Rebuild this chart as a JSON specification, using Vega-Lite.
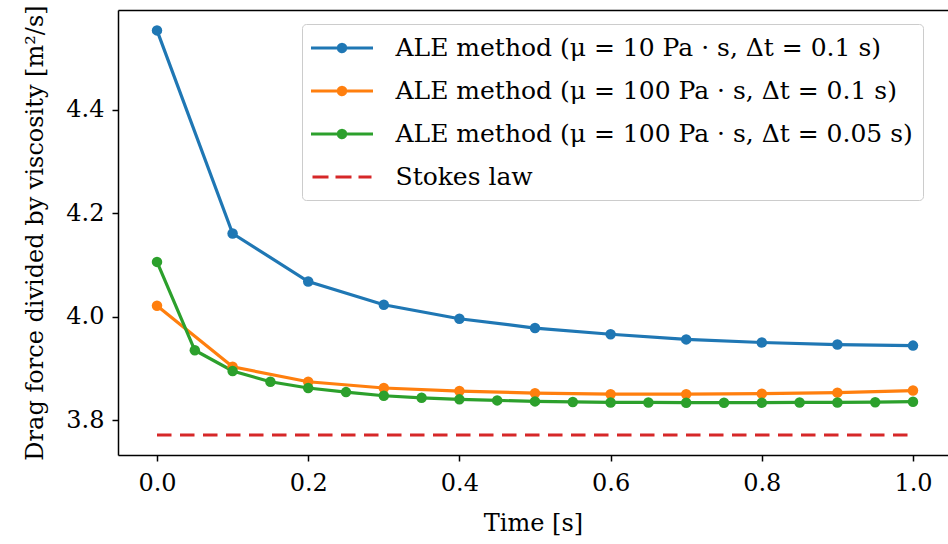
{
  "$schema": "https://vega.github.io/schema/vega-lite/v6.json",
  "width": 830,
  "height": 445,
  "autosize": {"type": "none"},
  "padding": {"left": 118, "top": 10, "right": 0, "bottom": 89},
  "background": "white",
  "config": {
    "view": {"stroke": null},
    "font": "DejaVu Serif",
    "axis": {
      "domainColor": "black",
      "domainWidth": 1.5,
      "tickColor": "black",
      "tickWidth": 1.5,
      "tickSize": 6,
      "labelFont": "DejaVu Serif",
      "labelFontSize": 24,
      "labelColor": "black",
      "titleFont": "DejaVu Serif",
      "titleFontSize": 24,
      "titleFontWeight": "normal",
      "titleColor": "black",
      "grid": false
    }
  },
  "datasets": {
    "ale": [
      {"series": "ALE method (μ = 10 Pa · s, Δt = 0.1 s)", "t": 0.0, "value": 4.554},
      {"series": "ALE method (μ = 10 Pa · s, Δt = 0.1 s)", "t": 0.1, "value": 4.161},
      {"series": "ALE method (μ = 10 Pa · s, Δt = 0.1 s)", "t": 0.2, "value": 4.068},
      {"series": "ALE method (μ = 10 Pa · s, Δt = 0.1 s)", "t": 0.3, "value": 4.023},
      {"series": "ALE method (μ = 10 Pa · s, Δt = 0.1 s)", "t": 0.4, "value": 3.996},
      {"series": "ALE method (μ = 10 Pa · s, Δt = 0.1 s)", "t": 0.5, "value": 3.978},
      {"series": "ALE method (μ = 10 Pa · s, Δt = 0.1 s)", "t": 0.6, "value": 3.966},
      {"series": "ALE method (μ = 10 Pa · s, Δt = 0.1 s)", "t": 0.7, "value": 3.956},
      {"series": "ALE method (μ = 10 Pa · s, Δt = 0.1 s)", "t": 0.8, "value": 3.950},
      {"series": "ALE method (μ = 10 Pa · s, Δt = 0.1 s)", "t": 0.9, "value": 3.946},
      {"series": "ALE method (μ = 10 Pa · s, Δt = 0.1 s)", "t": 1.0, "value": 3.944},
      {"series": "ALE method (μ = 100 Pa · s, Δt = 0.1 s)", "t": 0.0, "value": 4.021},
      {"series": "ALE method (μ = 100 Pa · s, Δt = 0.1 s)", "t": 0.1, "value": 3.903},
      {"series": "ALE method (μ = 100 Pa · s, Δt = 0.1 s)", "t": 0.2, "value": 3.874},
      {"series": "ALE method (μ = 100 Pa · s, Δt = 0.1 s)", "t": 0.3, "value": 3.862},
      {"series": "ALE method (μ = 100 Pa · s, Δt = 0.1 s)", "t": 0.4, "value": 3.856},
      {"series": "ALE method (μ = 100 Pa · s, Δt = 0.1 s)", "t": 0.5, "value": 3.852},
      {"series": "ALE method (μ = 100 Pa · s, Δt = 0.1 s)", "t": 0.6, "value": 3.850},
      {"series": "ALE method (μ = 100 Pa · s, Δt = 0.1 s)", "t": 0.7, "value": 3.850},
      {"series": "ALE method (μ = 100 Pa · s, Δt = 0.1 s)", "t": 0.8, "value": 3.851},
      {"series": "ALE method (μ = 100 Pa · s, Δt = 0.1 s)", "t": 0.9, "value": 3.853},
      {"series": "ALE method (μ = 100 Pa · s, Δt = 0.1 s)", "t": 1.0, "value": 3.857},
      {"series": "ALE method (μ = 100 Pa · s, Δt = 0.05 s)", "t": 0.0, "value": 4.106},
      {"series": "ALE method (μ = 100 Pa · s, Δt = 0.05 s)", "t": 0.05, "value": 3.935},
      {"series": "ALE method (μ = 100 Pa · s, Δt = 0.05 s)", "t": 0.1, "value": 3.895},
      {"series": "ALE method (μ = 100 Pa · s, Δt = 0.05 s)", "t": 0.15, "value": 3.874},
      {"series": "ALE method (μ = 100 Pa · s, Δt = 0.05 s)", "t": 0.2, "value": 3.862},
      {"series": "ALE method (μ = 100 Pa · s, Δt = 0.05 s)", "t": 0.25, "value": 3.854},
      {"series": "ALE method (μ = 100 Pa · s, Δt = 0.05 s)", "t": 0.3, "value": 3.847},
      {"series": "ALE method (μ = 100 Pa · s, Δt = 0.05 s)", "t": 0.35, "value": 3.843},
      {"series": "ALE method (μ = 100 Pa · s, Δt = 0.05 s)", "t": 0.4, "value": 3.840},
      {"series": "ALE method (μ = 100 Pa · s, Δt = 0.05 s)", "t": 0.45, "value": 3.838},
      {"series": "ALE method (μ = 100 Pa · s, Δt = 0.05 s)", "t": 0.5, "value": 3.836},
      {"series": "ALE method (μ = 100 Pa · s, Δt = 0.05 s)", "t": 0.55, "value": 3.835},
      {"series": "ALE method (μ = 100 Pa · s, Δt = 0.05 s)", "t": 0.6, "value": 3.834},
      {"series": "ALE method (μ = 100 Pa · s, Δt = 0.05 s)", "t": 0.65, "value": 3.834},
      {"series": "ALE method (μ = 100 Pa · s, Δt = 0.05 s)", "t": 0.7, "value": 3.8335},
      {"series": "ALE method (μ = 100 Pa · s, Δt = 0.05 s)", "t": 0.75, "value": 3.8335},
      {"series": "ALE method (μ = 100 Pa · s, Δt = 0.05 s)", "t": 0.8, "value": 3.8335},
      {"series": "ALE method (μ = 100 Pa · s, Δt = 0.05 s)", "t": 0.85, "value": 3.834},
      {"series": "ALE method (μ = 100 Pa · s, Δt = 0.05 s)", "t": 0.9, "value": 3.834},
      {"series": "ALE method (μ = 100 Pa · s, Δt = 0.05 s)", "t": 0.95, "value": 3.8345},
      {"series": "ALE method (μ = 100 Pa · s, Δt = 0.05 s)", "t": 1.0, "value": 3.8355}
    ],
    "stokes": [
      {"series": "Stokes law", "t": 0.0, "value": 3.771},
      {"series": "Stokes law", "t": 1.0, "value": 3.771}
    ]
  },
  "layer": [
    {
      "data": {"name": "ale"},
      "mark": {"type": "line", "strokeWidth": 3.2, "point": {"filled": true, "size": 110, "opacity": 1}},
      "encoding": {
        "x": {
          "field": "t", "type": "quantitative",
          "scale": {"domain": [-0.0516, 1.0463], "nice": false, "zero": false},
          "axis": {"orient": "bottom", "values": [0, 0.2, 0.4, 0.6, 0.8, 1.0], "format": ".1f", "title": "Time [s]", "labelPadding": 10, "titlePadding": 16}
        },
        "y": {
          "field": "value", "type": "quantitative",
          "scale": {"domain": [3.7323, 4.5935], "nice": false, "zero": false},
          "axis": {"values": [3.8, 4.0, 4.2, 4.4], "format": ".1f", "title": "Drag force divided by viscosity [m²/s]", "labelPadding": 8, "titlePadding": 18}
        },
        "color": {
          "field": "series", "type": "nominal",
          "scale": {
            "domain": ["ALE method (μ = 10 Pa · s, Δt = 0.1 s)", "ALE method (μ = 100 Pa · s, Δt = 0.1 s)", "ALE method (μ = 100 Pa · s, Δt = 0.05 s)", "Stokes law"],
            "range": ["#1f77b4", "#ff7f0e", "#2ca02c", "#d62728"]
          },
          "legend": {
            "orient": "none", "legendX": 184, "legendY": 14,
            "title": null,
            "labelFont": "DejaVu Serif", "labelFontSize": 25, "labelColor": "black", "labelLimit": 0,
            "symbolSize": 625, "symbolStrokeWidth": 3, "symbolType": "M-1,0H1", "symbolOffset": 16,
            "labelOffset": 39.5, "padding": 10, "rowPadding": 16,
            "fillColor": "rgba(255,255,255,0.8)", "strokeColor": "#cccccc", "cornerRadius": 4,
            "encode": {
              "symbols": {
                "update": {
                  "shape": {"signal": "datum.value === 'Stokes law' ? 'M-2.36,0H2.36' : 'M-2.48,0H2.48M0.3,0L0.26,0.15L0.15,0.26L0,0.3L-0.15,0.26L-0.26,0.15L-0.3,0L-0.26,-0.15L-0.15,-0.26L0,-0.3L0.15,-0.26L0.26,-0.15Z'"},
                  "strokeDash": {"signal": "datum.value === 'Stokes law' ? [16, 7] : [1, 0]"},
                  "fill": {"scale": "color", "field": "value"},
                  "stroke": {"scale": "color", "field": "value"},
                  "strokeWidth": {"value": 3},
                  "opacity": {"value": 1}
                }
              }
            }
          }
        }
      }
    },
    {
      "data": {"name": "stokes"},
      "mark": {"type": "line", "strokeWidth": 3.2, "strokeDash": [14.5, 8.5]},
      "encoding": {
        "x": {
          "field": "t", "type": "quantitative",
          "axis": {"orient": "top", "labels": false, "ticks": false, "domain": true, "title": null, "grid": false}
        },
        "y": {"field": "value", "type": "quantitative"},
        "color": {"field": "series", "type": "nominal"}
      }
    }
  ],
  "resolve": {"axis": {"x": "independent"}}
}
